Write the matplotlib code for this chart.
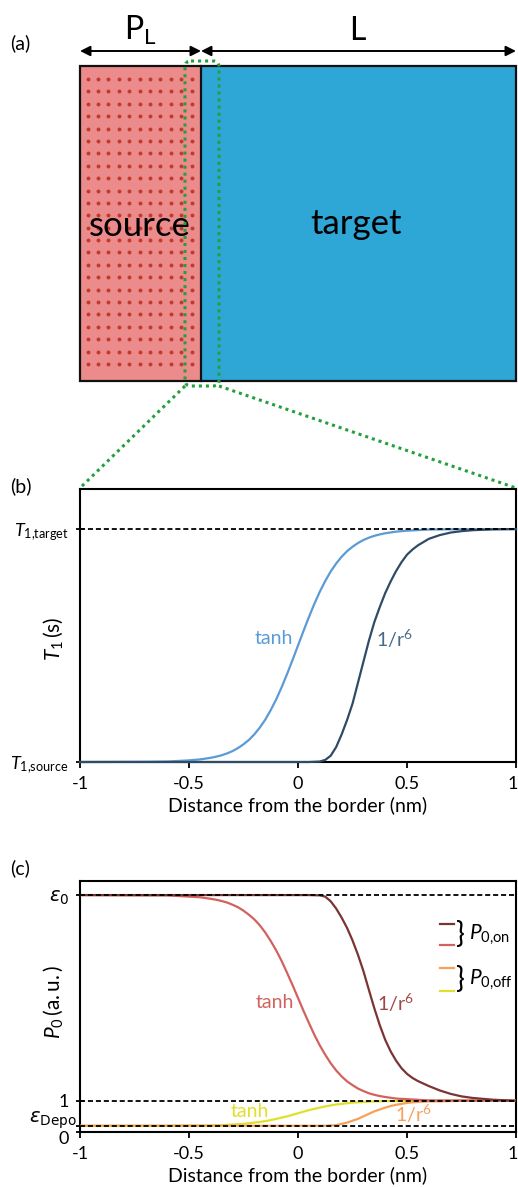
import numpy as np
import matplotlib.pyplot as plt
from matplotlib.patches import Rectangle, FancyBboxPatch
import matplotlib.transforms as mtransforms

plt.rcParams['font.family'] = ['Lato', 'DejaVu Sans']
plt.rcParams['mathtext.fontset'] = 'custom'
plt.rcParams['mathtext.rm'] = 'Lato'
plt.rcParams['mathtext.it'] = 'Lato:italic'
plt.rcParams['mathtext.bf'] = 'Lato:bold'
plt.rcParams['axes.unicode_minus'] = False

# distance from the border (nm)
x_tanh = [-1.0, -0.7, -0.6, -0.5, -0.45,
          -0.4, -0.375, -0.35, -0.325, -0.3, -0.275, -0.25, -0.225, -0.2, -0.175, -0.15, -0.125,
          -0.1, -0.075, -0.05, -0.025, 0.0, 0.025, 0.05, 0.075, 0.1, 0.125, 0.15, 0.175,
          0.2, 0.225, 0.25, 0.275, 0.3, 0.325, 0.35, 0.375, 0.4,
          0.45, 0.5, 0.6, 0.7, 1.0]
x_r6 = [-1.0, 0.05, 0.1, 0.125, 0.15, 0.175, 0.2, 0.225, 0.25, 0.275, 0.3, 0.325, 0.35,
        0.375, 0.4, 0.425, 0.45, 0.475, 0.5, 0.525, 0.55, 0.6, 0.65, 0.7, 0.75, 0.8, 0.9, 1.0]

# (b) T1 profile, 0 = T1,source and 1 = T1,target
t1_tanh = [0.0, 0.001, 0.002, 0.007, 0.011,
           0.018, 0.023, 0.029, 0.037, 0.047, 0.060, 0.076, 0.095, 0.119, 0.148, 0.182, 0.223,
           0.269, 0.321, 0.378, 0.438, 0.5, 0.562, 0.622, 0.679, 0.731, 0.777, 0.818, 0.852,
           0.881, 0.905, 0.924, 0.940, 0.953, 0.963, 0.971, 0.977, 0.982,
           0.989, 0.993, 0.998, 0.999, 1.0]
t1_r6 = [0.0, 0.0, 0.002, 0.009, 0.027, 0.064, 0.118, 0.18, 0.25, 0.34, 0.43, 0.52, 0.60,
         0.665, 0.725, 0.775, 0.82, 0.858, 0.89, 0.912, 0.93, 0.958, 0.974, 0.985, 0.991, 0.995, 0.999, 1.0]

# (c) polarization levels and profiles
eps0 = 7.58
eps_depo = 0.2
p_on_tanh = [7.58, 7.57, 7.57, 7.53, 7.51,
             7.46, 7.43, 7.39, 7.34, 7.27, 7.19, 7.08, 6.95, 6.80, 6.61, 6.38, 6.11,
             5.81, 5.47, 5.09, 4.70, 4.29, 3.88, 3.49, 3.11, 2.77, 2.47, 2.20, 1.97,
             1.78, 1.62, 1.50, 1.39, 1.31, 1.24, 1.19, 1.15, 1.12,
             1.07, 1.05, 1.01, 1.01, 1.00]
p_off_tanh = [0.20, 0.20, 0.20, 0.21, 0.21,
              0.21, 0.22, 0.22, 0.23, 0.24, 0.25, 0.26, 0.28, 0.30, 0.32, 0.35, 0.38,
              0.42, 0.46, 0.50, 0.55, 0.60, 0.65, 0.70, 0.74, 0.78, 0.82, 0.85, 0.88,
              0.90, 0.92, 0.94, 0.95, 0.96, 0.97, 0.98, 0.98, 0.99,
              0.99, 0.99, 1.00, 1.00, 1.00]
p_on_r6 = [7.58, 7.58, 7.57, 7.53, 7.38, 7.15, 6.86, 6.53, 6.13, 5.67, 5.15, 4.55, 3.96,
           3.42, 2.95, 2.58, 2.28, 2.04, 1.86, 1.73, 1.63, 1.47, 1.33, 1.22, 1.14, 1.09, 1.03, 1.00]
p_off_r6 = [0.20, 0.20, 0.20, 0.20, 0.21, 0.22, 0.26, 0.30, 0.36, 0.42, 0.50, 0.58, 0.66,
            0.72, 0.78, 0.83, 0.87, 0.90, 0.93, 0.95, 0.96, 0.98, 0.98, 0.99, 1.00, 1.00, 1.00, 1.00]

xticks = [-1, -0.5, 0, 0.5, 1]
xtick_labels = ['-1', '-0.5', '0', '0.5', '1']

W, H = 518, 1187
fig = plt.figure(figsize=(W / 100, H / 100), dpi=100)


def box(left, top, right, bottom):
    return [left / W, 1 - bottom / H, (right - left) / W, (bottom - top) / H]


def shift(label, dx, dy):
    # nudge a tick label by (dx, dy) pixels
    label.set_transform(label.get_transform()
                        + mtransforms.ScaledTranslation(dx / 100, dy / 100, fig.dpi_scale_trans))


green = '#23a03c'
dash = (0, (2.8, 1.6))

# ---- (a) schematic, drawn in pixel units ----
sk = fig.add_axes([0, 0, 1, 1])
sk.set_xlim(0, W)
sk.set_ylim(H, 0)
sk.axis('off')

sk.add_patch(Rectangle((80, 66), 121, 315, fc='#ec8b8b', ec='none'))
gx, gy = np.meshgrid(np.linspace(87.5, 191.5, 11), np.linspace(79, 364, 24))
sk.scatter(gx.ravel(), gy.ravel(), s=8, c='#c23a2e', lw=0, zorder=2)
sk.add_patch(Rectangle((201, 66), 315, 315, fc='#2ea6d6', ec='none'))
sk.add_patch(Rectangle((80, 66), 436, 315, fc='none', ec='#111111', lw=1.6, zorder=3))
sk.plot([201, 201], [66, 381], color='#111111', lw=1.6, zorder=3)
sk.text(140, 226, 'source', fontsize=25, ha='center', va='center', zorder=4)
sk.text(356, 224, 'target', fontsize=25, ha='center', va='center', zorder=4)

arrow = dict(arrowstyle='<|-|>,head_length=0.6,head_width=0.3', color='k', lw=1.4,
             shrinkA=0, shrinkB=0)
sk.annotate('', xy=(80, 51), xytext=(201, 51), arrowprops=arrow)
sk.annotate('', xy=(201, 51), xytext=(516, 51), arrowprops=arrow)
sk.text(140, 40, r'P$_\mathregular{L}$', fontsize=23, ha='center', va='baseline')
sk.text(357, 40, 'L', fontsize=23, ha='center', va='baseline')

sk.add_patch(FancyBboxPatch((185, 61), 34, 325, boxstyle='round,pad=0,rounding_size=6',
                            fc='none', ec=green, lw=2.2, ls=(0, (1, 1.3)), zorder=5))
sk.plot([185, 80], [386, 488], color=green, lw=2.2, ls=(0, (1, 1.3)))
sk.plot([219, 516], [386, 488], color=green, lw=2.2, ls=(0, (1, 1.3)))

sk.text(10, 43, '(a)', fontsize=14, va='center')
sk.text(10, 486, '(b)', fontsize=14, va='center')
sk.text(10, 868, '(c)', fontsize=14, va='center')


def style_axes(ax):
    for sp in ax.spines.values():
        sp.set_linewidth(1.5)
    ax.set_xlim(-1, 1)
    ax.set_xticks(xticks, xtick_labels)
    ax.tick_params(axis='x', direction='out', length=4, width=1.3, labelsize=13, pad=6)
    ax.tick_params(axis='y', direction='inout', length=6, width=1.3, labelsize=13, pad=5)
    ax.set_xlabel('Distance from the border (nm)', fontsize=14, labelpad=3)
    shift(ax.get_xticklabels()[-1], -3, 0)


# ---- (b) T1 profiles ----
axb = fig.add_axes(box(80, 489, 516, 762))
style_axes(axb)
axb.plot(x_tanh, t1_tanh, color='#5b9bd5', lw=1.6, zorder=3, clip_on=False)
axb.plot(x_r6, t1_r6, color='#2f4b66', lw=1.6, zorder=3, clip_on=False)
axb.axhline(1, color='k', ls=dash, lw=1.3, zorder=4)
axb.set_ylim(0, 1.172)
axb.set_yticks([0, 1], [r'$T_{\mathregular{1{,}source}}$', r'$T_{\mathregular{1{,}target}}$'])
axb.set_ylabel(r'$T_{\mathregular{1}}\,\mathregular{(s)}$', fontsize=15)
axb.yaxis.set_label_coords(-0.035, 0.45)
axb.text(-0.11, 0.53, 'tanh', color='#5b9bd5', fontsize=14, ha='center', va='center')
axb.text(0.44, 0.53, r'1/r$^\mathregular{6}$', color='#46698c', fontsize=14, ha='center', va='center')

# ---- (c) polarization profiles ----
axc = fig.add_axes(box(80, 881, 516, 1132))
style_axes(axc)
red_light = '#d2625e'
red_dark = '#7a3434'
orange = '#f7a05a'
yellow = '#e0e02a'
axc.plot(x_tanh, p_off_tanh, color=yellow, lw=1.6, zorder=3)
axc.plot(x_r6, p_off_r6, color=orange, lw=1.6, zorder=3)
axc.plot(x_tanh, p_on_tanh, color=red_light, lw=1.6, zorder=3)
axc.plot(x_r6, p_on_r6, color=red_dark, lw=1.6, zorder=3)
for lvl in [eps0, 1, eps_depo]:
    axc.axhline(lvl, color='k', ls=dash, lw=1.3, zorder=4)
axc.set_ylim(0, 8.03)
axc.set_yticks([0, eps_depo, 1, eps0],
               ['0', r'$\varepsilon_{\mathrm{Depo}}$', '1', r'$\varepsilon_{\mathrm{0}}$'])
ylabs = axc.get_yticklabels()
shift(ylabs[0], 0, -6)
shift(ylabs[1], 8, 10)
for lab in (ylabs[1], ylabs[3]):
    lab.set_fontsize(14)
    lab.set_math_fontfamily('dejavusans')
axc.set_ylabel(r'$P_{\mathregular{0}}\,\mathregular{(a.u.)}$', fontsize=15)
axc.yaxis.set_label_coords(-0.035, 0.52)

axc.text(-0.105, 4.14, 'tanh', color=red_light, fontsize=14, ha='center', va='center')
axc.text(0.445, 4.14, r'1/r$^\mathregular{6}$', color='#a04646', fontsize=14, ha='center', va='center')
axc.text(-0.22, 0.66, 'tanh', color=yellow, fontsize=14, ha='center', va='center')
axc.text(0.53, 0.57, r'1/r$^\mathregular{6}$', color=orange, fontsize=14, ha='center', va='center')

# bracket legend
lx = [0.651, 0.716]
axc.plot(lx, [6.65, 6.65], color=red_dark, lw=1.6)
axc.plot(lx, [5.97, 5.97], color=red_light, lw=1.6)
axc.plot(lx, [5.24, 5.24], color=orange, lw=1.6)
axc.plot(lx, [4.51, 4.51], color=yellow, lw=1.6)
axc.text(0.725, 6.31, '}', fontsize=21, ha='left', va='center')
axc.text(0.725, 4.88, '}', fontsize=21, ha='left', va='center')
axc.text(0.785, 6.31, r'$P_{\mathregular{0{,}on}}$', fontsize=15, ha='left', va='center')
axc.text(0.785, 4.88, r'$P_{\mathregular{0{,}off}}$', fontsize=15, ha='left', va='center')

fig.savefig('out.png', dpi=100)
